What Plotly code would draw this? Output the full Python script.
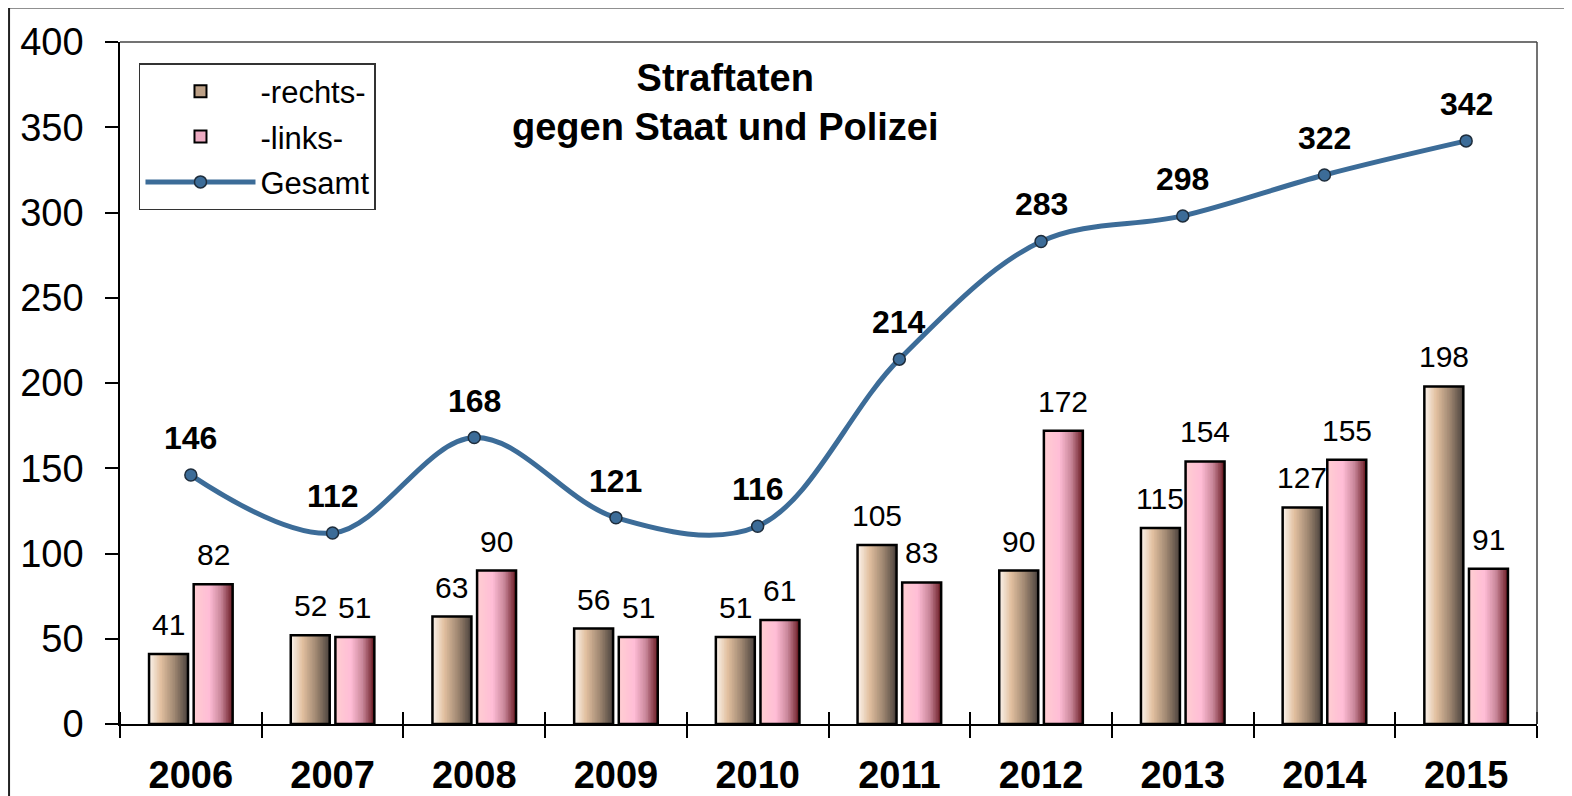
import plotly.graph_objects as go

# ---------------- data ----------------
YEARS = [2006, 2007, 2008, 2009, 2010, 2011, 2012, 2013, 2014, 2015]
RECHTS = [41, 52, 63, 56, 51, 105, 90, 115, 127, 198]
LINKS = [82, 51, 90, 51, 61, 83, 172, 154, 155, 91]
GESAMT = [146, 112, 168, 121, 116, 214, 283, 298, 322, 342]
Y_TICKS = [0, 50, 100, 150, 200, 250, 300, 350, 400]
SERIES_NAMES = ["-rechts-", "-links-", "Gesamt"]
TITLE_LINES = ["Straftaten", "gegen Staat und Polizei"]

# ---------------- style ----------------
FONT = "Liberation Sans, Arial, sans-serif"
RECHTS_STOPS = [(0.0, (251, 244, 237)), (0.3, (226, 192, 160)), (0.65, (160, 136, 114)), (1.0, (75, 66, 61))]
LINKS_STOPS = [(0.0, (255, 206, 210)), (0.4, (255, 189, 214)), (0.7, (200, 134, 153)), (1.0, (105, 26, 34))]
LINE_COLOR = "#3c6c98"
BAR_W = 0.275
OFFSETS = {"r": -0.295, "l": 0.02}
N_SLICES = 24


def grad(stops, t):
    for (t0, c0), (t1, c1) in zip(stops[:-1], stops[1:]):
        if t0 <= t <= t1:
            f = (t - t0) / (t1 - t0)
            c = [round(a + (b - a) * f) for a, b in zip(c0, c1)]
            return "rgb(%d,%d,%d)" % tuple(c)
    return "rgb(%d,%d,%d)" % stops[-1][1]


fig = go.Figure()


def add_gradient_bars(values, stops, off, name):
    dw = BAR_W / N_SLICES
    for i in range(N_SLICES):
        fig.add_trace(go.Bar(
            x=YEARS, y=values, offset=off + i * dw, width=BAR_W - i * dw,
            marker=dict(color=grad(stops, (i + 0.5) / N_SLICES), line=dict(width=0)),
            showlegend=False, hoverinfo="skip"))
    # outline
    fig.add_trace(go.Bar(
        x=YEARS, y=values, offset=off, width=BAR_W, name=name,
        marker=dict(color="rgba(0,0,0,0)", line=dict(color="black", width=2.5)),
        showlegend=False, hovertemplate="%{x}: %{y}<extra>" + name + "</extra>"))


add_gradient_bars(RECHTS, RECHTS_STOPS, OFFSETS["r"], SERIES_NAMES[0])
add_gradient_bars(LINKS, LINKS_STOPS, OFFSETS["l"], SERIES_NAMES[1])

# legend-only entries for bars
fig.add_trace(go.Bar(x=[None], y=[None], name=SERIES_NAMES[0], legendrank=1, legendgroup="a",
                     marker=dict(color=grad(RECHTS_STOPS, 0.5), line=dict(color="black", width=2))))
fig.add_trace(go.Bar(x=[None], y=[None], name=SERIES_NAMES[1], legendrank=2, legendgroup="b",
                     marker=dict(color=grad(LINKS_STOPS, 0.5), line=dict(color="black", width=2))))

fig.add_trace(go.Scatter(
    x=YEARS, y=GESAMT, name=SERIES_NAMES[2], legendrank=3, legendgroup="c", mode="lines+markers",
    line=dict(color=LINE_COLOR, width=5, shape="spline", smoothing=1.0),
    marker=dict(size=12, color=LINE_COLOR, line=dict(color="#1e2d3c", width=1.5))))

# helper trace for second x-axis (inner half of crossing ticks)
fig.add_trace(go.Scatter(x=YEARS, y=GESAMT, xaxis="x2", mode="none",
                         showlegend=False, hoverinfo="skip"))

annotations = []
for yr, v in zip(YEARS, RECHTS):
    annotations.append(dict(x=yr + OFFSETS["r"] + BAR_W / 2, y=v, text=str(v), showarrow=False,
                            yanchor="bottom", yshift=11,
                            font=dict(family=FONT, size=30, color="black")))
for yr, v in zip(YEARS, LINKS):
    annotations.append(dict(x=yr + OFFSETS["l"] + BAR_W / 2, y=v, text=str(v), showarrow=False,
                            yanchor="bottom", yshift=11,
                            font=dict(family=FONT, size=30, color="black")))
for yr, v in zip(YEARS, GESAMT):
    annotations.append(dict(x=yr, y=v, text="<b>%d</b>" % v, showarrow=False,
                            yanchor="bottom", yshift=17,
                            font=dict(family=FONT, size=32, color="black")))
annotations.append(dict(xref="paper", yref="paper", x=0.427, y=0.912,
                        text="<b>" + "<br>".join(TITLE_LINES) + "</b>", showarrow=False,
                        xanchor="center", yanchor="middle", align="center",
                        font=dict(family=FONT, size=38, color="black")))

boundaries = [y - 0.5 for y in YEARS] + [YEARS[-1] + 0.5]
x_range = [YEARS[0] - 0.5, YEARS[-1] + 0.5]

fig.update_layout(
    width=1564, height=788,
    margin=dict(l=112, r=35, t=34, b=72, autoexpand=False),
    paper_bgcolor="white", plot_bgcolor="white",
    barmode="overlay",
    font=dict(family=FONT, color="black"),
    annotations=annotations,
    shapes=[dict(type="rect", xref="paper", yref="paper",
                 x0=-0.0783, x1=1.2, y0=-0.3, y1=1.0505,
                 line=dict(color="#222", width=2), layer="below")],
    xaxis=dict(range=x_range, tickmode="array", tickvals=YEARS, ticktext=[str(y) for y in YEARS],
               tickfont=dict(family=FONT, size=38, color="black", weight="bold"),
               ticks="", showgrid=False, zeroline=False, automargin=False,
               showline=True, linecolor="black", linewidth=1.5,
               mirror=False, ticklabelstandoff=17,
               minor=dict(tickmode="array", tickvals=boundaries, ticks="outside", ticklen=12,
                          tickwidth=1.5, tickcolor="black", showgrid=False)),
    xaxis2=dict(range=x_range, overlaying="x", side="bottom", anchor="y", automargin=False,
                showticklabels=False, ticks="", showgrid=False, zeroline=False, showline=False,
                minor=dict(tickmode="array", tickvals=boundaries, ticks="inside", ticklen=12,
                           tickwidth=1.5, tickcolor="black", showgrid=False)),
    yaxis=dict(range=[0, 400], tickmode="array", tickvals=Y_TICKS, automargin=False,
               tickfont=dict(family=FONT, size=38, color="black"),
               ticks="outside", ticklen=13, tickwidth=1.5, tickcolor="black",
               showgrid=False, zeroline=False, showline=True, linecolor="black", linewidth=1.5,
               ticklabelstandoff=14),
    legend=dict(x=0.0134, y=0.969, xanchor="left", yanchor="top",
                bgcolor="white", bordercolor="#333", borderwidth=1.5,
                font=dict(family=FONT, size=31, color="black"),
                traceorder="grouped", itemwidth=110, tracegroupgap=2),
)

# plot-area top and right border
fig.add_shape(type="line", xref="paper", yref="paper", x0=0, x1=1, y0=1, y1=1,
              line=dict(color="#444", width=1.5))
fig.add_shape(type="line", xref="paper", yref="paper", x0=1, x1=1, y0=1, y1=0,
              line=dict(color="#444", width=1.5))

fig.write_html("out.html")
